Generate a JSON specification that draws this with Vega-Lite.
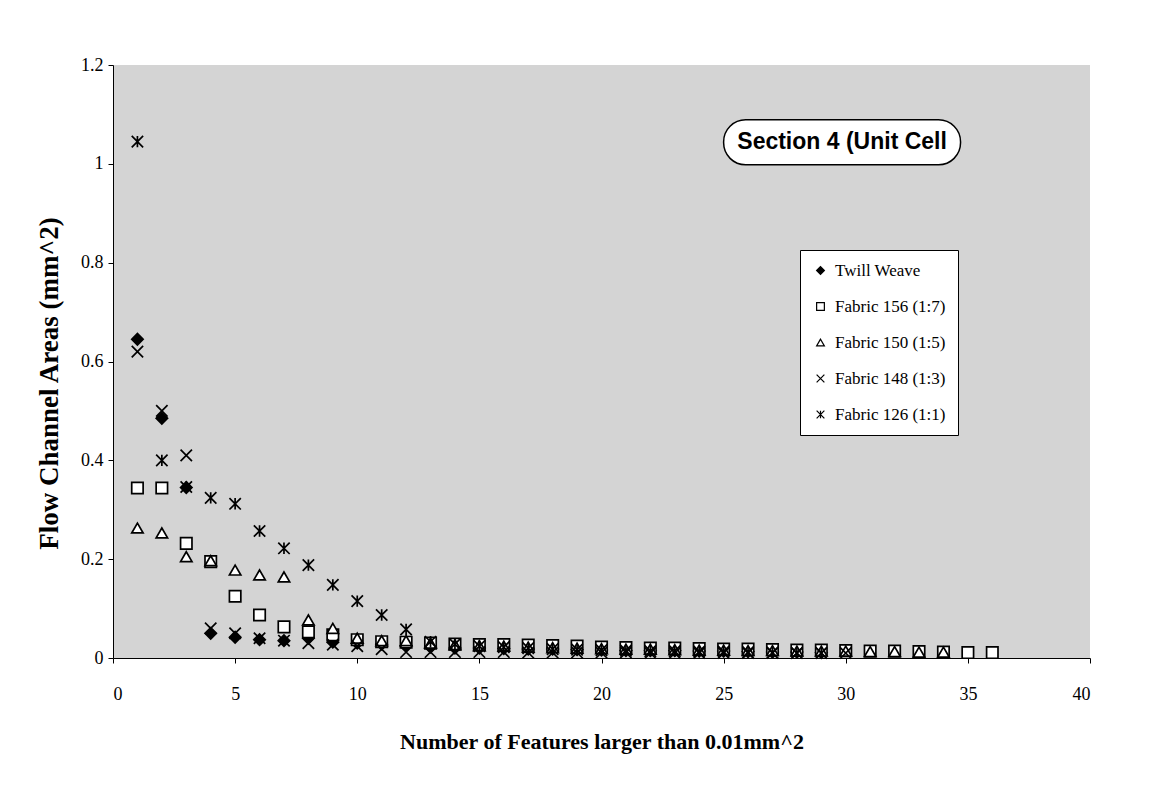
{
  "$schema": "https://vega.github.io/schema/vega-lite/v6.json",
  "width": 977,
  "height": 593,
  "autosize": {"type": "none"},
  "padding": {"left": 113, "top": 65, "right": 65, "bottom": 146},
  "background": "white",
  "config": {
    "view": {"fill": "#d4d4d4", "stroke": null},
    "axis": {"grid": false, "domainColor": "black", "tickColor": "black", "labelColor": "black", "titleColor": "black", "labelFont": "Liberation Serif", "titleFont": "Liberation Serif"},
    "legend": {"symbolStrokeColor": "black", "symbolStrokeWidth": 1.2, "symbolSize": 60}
  },
  "datasets": {
    "pts": [
      {"series": "Twill Weave", "n": 1, "area": 0.645},
      {"series": "Twill Weave", "n": 2, "area": 0.485},
      {"series": "Twill Weave", "n": 3, "area": 0.345},
      {"series": "Twill Weave", "n": 4, "area": 0.05},
      {"series": "Twill Weave", "n": 5, "area": 0.042},
      {"series": "Twill Weave", "n": 6, "area": 0.037},
      {"series": "Twill Weave", "n": 7, "area": 0.035},
      {"series": "Twill Weave", "n": 8, "area": 0.04},
      {"series": "Twill Weave", "n": 9, "area": 0.032},
      {"series": "Twill Weave", "n": 10, "area": 0.03},
      {"series": "Twill Weave", "n": 11, "area": 0.028},
      {"series": "Twill Weave", "n": 12, "area": 0.025},
      {"series": "Twill Weave", "n": 13, "area": 0.022},
      {"series": "Twill Weave", "n": 14, "area": 0.02},
      {"series": "Twill Weave", "n": 15, "area": 0.02},
      {"series": "Twill Weave", "n": 16, "area": 0.019},
      {"series": "Twill Weave", "n": 17, "area": 0.018},
      {"series": "Twill Weave", "n": 18, "area": 0.018},
      {"series": "Twill Weave", "n": 19, "area": 0.017},
      {"series": "Twill Weave", "n": 20, "area": 0.016},
      {"series": "Twill Weave", "n": 21, "area": 0.015},
      {"series": "Twill Weave", "n": 22, "area": 0.015},
      {"series": "Twill Weave", "n": 23, "area": 0.015},
      {"series": "Twill Weave", "n": 24, "area": 0.014},
      {"series": "Twill Weave", "n": 25, "area": 0.014},
      {"series": "Twill Weave", "n": 26, "area": 0.013},
      {"series": "Twill Weave", "n": 27, "area": 0.012},
      {"series": "Twill Weave", "n": 28, "area": 0.012},
      {"series": "Twill Weave", "n": 29, "area": 0.011},
      {"series": "Fabric 156 (1:7)", "n": 1, "area": 0.344},
      {"series": "Fabric 156 (1:7)", "n": 2, "area": 0.344},
      {"series": "Fabric 156 (1:7)", "n": 3, "area": 0.232},
      {"series": "Fabric 156 (1:7)", "n": 4, "area": 0.195},
      {"series": "Fabric 156 (1:7)", "n": 5, "area": 0.125},
      {"series": "Fabric 156 (1:7)", "n": 6, "area": 0.087},
      {"series": "Fabric 156 (1:7)", "n": 7, "area": 0.063},
      {"series": "Fabric 156 (1:7)", "n": 8, "area": 0.053},
      {"series": "Fabric 156 (1:7)", "n": 9, "area": 0.047},
      {"series": "Fabric 156 (1:7)", "n": 10, "area": 0.037},
      {"series": "Fabric 156 (1:7)", "n": 11, "area": 0.033},
      {"series": "Fabric 156 (1:7)", "n": 12, "area": 0.032},
      {"series": "Fabric 156 (1:7)", "n": 13, "area": 0.03},
      {"series": "Fabric 156 (1:7)", "n": 14, "area": 0.028},
      {"series": "Fabric 156 (1:7)", "n": 15, "area": 0.027},
      {"series": "Fabric 156 (1:7)", "n": 16, "area": 0.027},
      {"series": "Fabric 156 (1:7)", "n": 17, "area": 0.026},
      {"series": "Fabric 156 (1:7)", "n": 18, "area": 0.025},
      {"series": "Fabric 156 (1:7)", "n": 19, "area": 0.024},
      {"series": "Fabric 156 (1:7)", "n": 20, "area": 0.022},
      {"series": "Fabric 156 (1:7)", "n": 21, "area": 0.021},
      {"series": "Fabric 156 (1:7)", "n": 22, "area": 0.02},
      {"series": "Fabric 156 (1:7)", "n": 23, "area": 0.02},
      {"series": "Fabric 156 (1:7)", "n": 24, "area": 0.019},
      {"series": "Fabric 156 (1:7)", "n": 25, "area": 0.018},
      {"series": "Fabric 156 (1:7)", "n": 26, "area": 0.018},
      {"series": "Fabric 156 (1:7)", "n": 27, "area": 0.017},
      {"series": "Fabric 156 (1:7)", "n": 28, "area": 0.016},
      {"series": "Fabric 156 (1:7)", "n": 29, "area": 0.016},
      {"series": "Fabric 156 (1:7)", "n": 30, "area": 0.015},
      {"series": "Fabric 156 (1:7)", "n": 31, "area": 0.014},
      {"series": "Fabric 156 (1:7)", "n": 32, "area": 0.014},
      {"series": "Fabric 156 (1:7)", "n": 33, "area": 0.013},
      {"series": "Fabric 156 (1:7)", "n": 34, "area": 0.012},
      {"series": "Fabric 156 (1:7)", "n": 35, "area": 0.011},
      {"series": "Fabric 156 (1:7)", "n": 36, "area": 0.011},
      {"series": "Fabric 150 (1:5)", "n": 1, "area": 0.263},
      {"series": "Fabric 150 (1:5)", "n": 2, "area": 0.253},
      {"series": "Fabric 150 (1:5)", "n": 3, "area": 0.205},
      {"series": "Fabric 150 (1:5)", "n": 4, "area": 0.197},
      {"series": "Fabric 150 (1:5)", "n": 5, "area": 0.178},
      {"series": "Fabric 150 (1:5)", "n": 6, "area": 0.168},
      {"series": "Fabric 150 (1:5)", "n": 7, "area": 0.164},
      {"series": "Fabric 150 (1:5)", "n": 8, "area": 0.077},
      {"series": "Fabric 150 (1:5)", "n": 9, "area": 0.06},
      {"series": "Fabric 150 (1:5)", "n": 10, "area": 0.04},
      {"series": "Fabric 150 (1:5)", "n": 11, "area": 0.035},
      {"series": "Fabric 150 (1:5)", "n": 12, "area": 0.035},
      {"series": "Fabric 150 (1:5)", "n": 13, "area": 0.03},
      {"series": "Fabric 150 (1:5)", "n": 14, "area": 0.027},
      {"series": "Fabric 150 (1:5)", "n": 15, "area": 0.025},
      {"series": "Fabric 150 (1:5)", "n": 16, "area": 0.024},
      {"series": "Fabric 150 (1:5)", "n": 17, "area": 0.022},
      {"series": "Fabric 150 (1:5)", "n": 18, "area": 0.021},
      {"series": "Fabric 150 (1:5)", "n": 19, "area": 0.02},
      {"series": "Fabric 150 (1:5)", "n": 20, "area": 0.019},
      {"series": "Fabric 150 (1:5)", "n": 21, "area": 0.018},
      {"series": "Fabric 150 (1:5)", "n": 22, "area": 0.018},
      {"series": "Fabric 150 (1:5)", "n": 23, "area": 0.017},
      {"series": "Fabric 150 (1:5)", "n": 24, "area": 0.016},
      {"series": "Fabric 150 (1:5)", "n": 25, "area": 0.016},
      {"series": "Fabric 150 (1:5)", "n": 26, "area": 0.015},
      {"series": "Fabric 150 (1:5)", "n": 27, "area": 0.015},
      {"series": "Fabric 150 (1:5)", "n": 28, "area": 0.014},
      {"series": "Fabric 150 (1:5)", "n": 29, "area": 0.014},
      {"series": "Fabric 150 (1:5)", "n": 30, "area": 0.014},
      {"series": "Fabric 150 (1:5)", "n": 31, "area": 0.013},
      {"series": "Fabric 150 (1:5)", "n": 32, "area": 0.013},
      {"series": "Fabric 150 (1:5)", "n": 33, "area": 0.012},
      {"series": "Fabric 150 (1:5)", "n": 34, "area": 0.012},
      {"series": "Fabric 148 (1:3)", "n": 1, "area": 0.62},
      {"series": "Fabric 148 (1:3)", "n": 2, "area": 0.5},
      {"series": "Fabric 148 (1:3)", "n": 3, "area": 0.41},
      {"series": "Fabric 148 (1:3)", "n": 4, "area": 0.06},
      {"series": "Fabric 148 (1:3)", "n": 5, "area": 0.05},
      {"series": "Fabric 148 (1:3)", "n": 6, "area": 0.04},
      {"series": "Fabric 148 (1:3)", "n": 7, "area": 0.035},
      {"series": "Fabric 148 (1:3)", "n": 8, "area": 0.03},
      {"series": "Fabric 148 (1:3)", "n": 9, "area": 0.027},
      {"series": "Fabric 148 (1:3)", "n": 10, "area": 0.024},
      {"series": "Fabric 148 (1:3)", "n": 11, "area": 0.018},
      {"series": "Fabric 148 (1:3)", "n": 12, "area": 0.012},
      {"series": "Fabric 148 (1:3)", "n": 13, "area": 0.012},
      {"series": "Fabric 148 (1:3)", "n": 14, "area": 0.012},
      {"series": "Fabric 148 (1:3)", "n": 15, "area": 0.012},
      {"series": "Fabric 148 (1:3)", "n": 16, "area": 0.012},
      {"series": "Fabric 148 (1:3)", "n": 17, "area": 0.011},
      {"series": "Fabric 148 (1:3)", "n": 18, "area": 0.011},
      {"series": "Fabric 148 (1:3)", "n": 19, "area": 0.011},
      {"series": "Fabric 148 (1:3)", "n": 20, "area": 0.011},
      {"series": "Fabric 148 (1:3)", "n": 21, "area": 0.011},
      {"series": "Fabric 148 (1:3)", "n": 22, "area": 0.01},
      {"series": "Fabric 148 (1:3)", "n": 23, "area": 0.01},
      {"series": "Fabric 148 (1:3)", "n": 24, "area": 0.01},
      {"series": "Fabric 148 (1:3)", "n": 25, "area": 0.01},
      {"series": "Fabric 148 (1:3)", "n": 26, "area": 0.01},
      {"series": "Fabric 148 (1:3)", "n": 27, "area": 0.01},
      {"series": "Fabric 148 (1:3)", "n": 28, "area": 0.01},
      {"series": "Fabric 148 (1:3)", "n": 29, "area": 0.01},
      {"series": "Fabric 148 (1:3)", "n": 30, "area": 0.01},
      {"series": "Fabric 126 (1:1)", "n": 1, "area": 1.045},
      {"series": "Fabric 126 (1:1)", "n": 2, "area": 0.4},
      {"series": "Fabric 126 (1:1)", "n": 3, "area": 0.346},
      {"series": "Fabric 126 (1:1)", "n": 4, "area": 0.324},
      {"series": "Fabric 126 (1:1)", "n": 5, "area": 0.312},
      {"series": "Fabric 126 (1:1)", "n": 6, "area": 0.257},
      {"series": "Fabric 126 (1:1)", "n": 7, "area": 0.222},
      {"series": "Fabric 126 (1:1)", "n": 8, "area": 0.188},
      {"series": "Fabric 126 (1:1)", "n": 9, "area": 0.148},
      {"series": "Fabric 126 (1:1)", "n": 10, "area": 0.115},
      {"series": "Fabric 126 (1:1)", "n": 11, "area": 0.087},
      {"series": "Fabric 126 (1:1)", "n": 12, "area": 0.058},
      {"series": "Fabric 126 (1:1)", "n": 13, "area": 0.033},
      {"series": "Fabric 126 (1:1)", "n": 14, "area": 0.028},
      {"series": "Fabric 126 (1:1)", "n": 15, "area": 0.024},
      {"series": "Fabric 126 (1:1)", "n": 16, "area": 0.022},
      {"series": "Fabric 126 (1:1)", "n": 17, "area": 0.02},
      {"series": "Fabric 126 (1:1)", "n": 18, "area": 0.018},
      {"series": "Fabric 126 (1:1)", "n": 19, "area": 0.017},
      {"series": "Fabric 126 (1:1)", "n": 20, "area": 0.016},
      {"series": "Fabric 126 (1:1)", "n": 21, "area": 0.015},
      {"series": "Fabric 126 (1:1)", "n": 22, "area": 0.014},
      {"series": "Fabric 126 (1:1)", "n": 23, "area": 0.014},
      {"series": "Fabric 126 (1:1)", "n": 24, "area": 0.013},
      {"series": "Fabric 126 (1:1)", "n": 25, "area": 0.013},
      {"series": "Fabric 126 (1:1)", "n": 26, "area": 0.012},
      {"series": "Fabric 126 (1:1)", "n": 27, "area": 0.011},
      {"series": "Fabric 126 (1:1)", "n": 28, "area": 0.01},
      {"series": "Fabric 126 (1:1)", "n": 29, "area": 0.01}
    ],
    "note": [{"label": "Section 4 (Unit Cell"}]
  },
  "layer": [
    {
      "data": {"name": "pts"},
      "mark": {"type": "point", "filled": true, "strokeWidth": 1.7, "opacity": 1},
      "encoding": {
        "x": {"field": "n", "type": "quantitative", "scale": {"domain": [0, 40], "nice": false},
              "axis": {"values": [0, 5, 10, 15, 20, 25, 30, 35, 40], "tickSize": 5, "labelFontSize": 18, "labelPadding": 22,
                       "title": "Number of Features larger than 0.01mm^2", "titleFontSize": 22, "titleFontWeight": "bold", "titlePadding": 28}},
        "y": {"field": "area", "type": "quantitative", "scale": {"domain": [0, 1.2], "nice": false},
              "axis": {"values": [0, 0.2, 0.4, 0.6, 0.8, 1, 1.2], "format": "~g", "tickSize": 5, "labelFontSize": 18, "labelPadding": 5,
                       "title": "Flow Channel Areas (mm^2)", "titleFontSize": 27, "titleFontWeight": "bold", "titlePadding": 17, "titleY": 318}},
        "shape": {"field": "series", "type": "nominal",
                  "scale": {"domain": ["Twill Weave", "Fabric 156 (1:7)", "Fabric 150 (1:5)", "Fabric 148 (1:3)", "Fabric 126 (1:1)"],
                            "range": ["diamond", "square", "triangle-up", "M-1,-1L1,1M-1,1L1,-1", "M-1,-1L1,1M-1,1L1,-1M0,-1L0,1"]},
                  "legend": {"title": null, "orient": "none", "legendX": 687, "legendY": 185, "fillColor": "white", "strokeColor": "black",
                             "padding": 12, "labelFont": "Liberation Serif", "labelFontSize": 17, "labelColor": "black", "rowPadding": 18,
                             "labelOffset": 6}},
        "fill": {"field": "series", "type": "nominal",
                 "scale": {"domain": ["Twill Weave", "Fabric 156 (1:7)", "Fabric 150 (1:5)", "Fabric 148 (1:3)", "Fabric 126 (1:1)"],
                           "range": ["black", "white", "white", "transparent", "transparent"]},
                 "legend": {"title": null, "orient": "none", "legendX": 687, "legendY": 185, "fillColor": "white", "strokeColor": "black",
                             "padding": 12, "labelFont": "Liberation Serif", "labelFontSize": 17, "labelColor": "black", "rowPadding": 18,
                             "labelOffset": 6}},
        "stroke": {"field": "series", "type": "nominal",
                 "scale": {"domain": ["Twill Weave", "Fabric 156 (1:7)", "Fabric 150 (1:5)", "Fabric 148 (1:3)", "Fabric 126 (1:1)"],
                           "range": ["black", "black", "black", "black", "black"]},
                 "legend": {"title": null, "orient": "none", "legendX": 687, "legendY": 185, "fillColor": "white", "strokeColor": "black",
                             "padding": 12, "labelFont": "Liberation Serif", "labelFontSize": 17, "labelColor": "black", "rowPadding": 18,
                             "labelOffset": 6}},
        "size": {"value": 130}
      }
    },
    {
      "data": {"name": "note"},
      "mark": {"type": "rect", "cornerRadius": 22, "fill": "white", "stroke": "black", "strokeWidth": 1.5},
      "encoding": {
        "x": {"datum": 25.0, "type": "quantitative"},
        "x2": {"datum": 34.7},
        "y": {"datum": 1.089, "type": "quantitative"},
        "y2": {"datum": 0.998}
      }
    },
    {
      "data": {"name": "note"},
      "mark": {"type": "text", "font": "Liberation Sans", "fontWeight": "bold", "fontSize": 23, "color": "black", "align": "center", "baseline": "middle"},
      "encoding": {
        "x": {"datum": 29.85, "type": "quantitative"},
        "y": {"datum": 1.044, "type": "quantitative"},
        "text": {"field": "label"}
      }
    }
  ]
}
